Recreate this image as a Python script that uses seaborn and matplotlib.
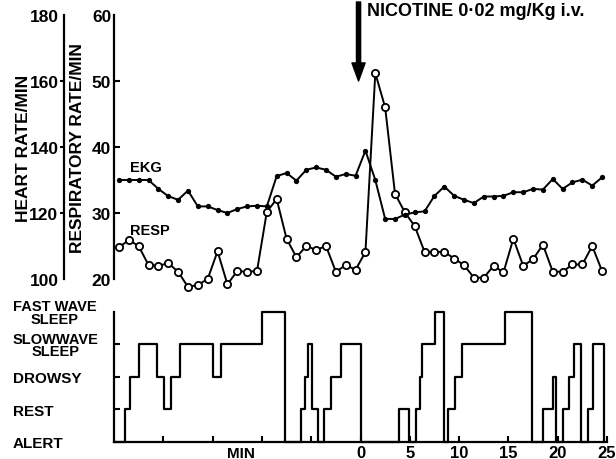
import matplotlib
matplotlib.use("Agg")
import matplotlib.pyplot as plt
import seaborn as sns

# ---- data -------------------------------------------------------------
minutes = [-24.5, -23.5, -22.5, -21.5, -20.5, -19.5, -18.5, -17.5, -16.5, -15.5,
           -14.5, -13.5, -12.5, -11.5, -10.5, -9.5, -8.5, -7.5, -6.5, -5.5,
           -4.5, -3.5, -2.5, -1.5, -0.5, 0.5, 1.5, 2.5, 3.5, 4.5,
           5.5, 6.5, 7.5, 8.5, 9.5, 10.5, 11.5, 12.5, 13.5, 14.5,
           15.5, 16.5, 17.5, 18.5, 19.5, 20.5, 21.5, 22.5, 23.5, 24.5]

heart_rate = [130, 130, 130, 130, 127.3, 125.1, 124, 126.8, 122, 122,
              120.9, 120, 121.2, 122, 122.2, 122, 131.2, 132.1, 129.8, 133.1,
              133.8, 133.1, 131, 131.8, 131.3, 138.9, 130, 118.2, 118.2, 119.5,
              120.2, 120.5, 125.2, 128, 125.2, 124, 123, 125, 125, 125.2,
              126.3, 126.3, 127.3, 127.1, 130.3, 127.3, 129.3, 130.1, 128.3, 130.8]

resp_rate = [24.8, 25.9, 25.0, 22.1, 22.0, 22.4, 21.1, 18.8, 19.1, 20.0,
             24.2, 19.2, 21.2, 21.1, 21.2, 30.2, 32.1, 26.1, 23.3, 25.0,
             24.4, 25.0, 21.1, 22.1, 21.4, 24.1, 51.2, 46.0, 32.9, 30.1,
             28.0, 24.1, 24.1, 24.1, 23.1, 22.1, 20.2, 20.2, 22.0, 21.0,
             26.1, 22.0, 23.0, 25.2, 21.1, 21.1, 22.2, 22.2, 25.0, 21.2]

# sleep stage changes: minute at which each stage begins
stage_minutes = [-25, -23.9, -23.4, -22.5, -20.6, -19.9, -19.2, -18.3, -15.0, -14.1,
                 -10.0, -7.7, -6.0, -5.6, -5.3, -4.9, -4.3, -3.7, -3.0, -2.0,
                 0.0, 3.9, 4.9, 5.6, 6.0, 6.2, 7.6, 8.5, 8.9, 9.6,
                 10.3, 14.7, 17.4, 18.5, 19.5, 19.8, 20.5, 21.1, 21.7, 22.4,
                 23.1, 23.6, 24.7]
stage_levels = [0, 1, 2, 3, 2, 1, 2, 3, 2, 3,
                4, 0, 1, 2, 3, 1, 0, 1, 2, 3,
                0, 1, 0, 1, 2, 3, 4, 0, 1, 2,
                3, 4, 0, 1, 2, 0, 1, 2, 3, 0,
                1, 3, 0]
stage_names = ["ALERT", "REST", "DROWSY", "SLOWWAVE\nSLEEP", "FAST WAVE\nSLEEP"]

hr_ticks = [100, 120, 140, 160, 180]
resp_ticks = [20, 30, 40, 50, 60]
time_ticks = [-20, -15, -10, -5, 0, 5, 10, 15, 20, 25]
time_labels = ["", "", "", "", "0", "5", "10", "15", "20", "25"]

# ---- style ------------------------------------------------------------
sns.set_theme(style="ticks")
plt.rcParams["font.family"] = ["Liberation Sans", "DejaVu Sans"]
plt.rcParams["font.weight"] = "bold"
plt.rcParams["axes.linewidth"] = 1.6
INK = "black"

fig = plt.figure(figsize=(6.16, 4.60), dpi=100)
ax_resp = fig.add_axes([0.1851, 0.3913, 0.8003, 0.5739])
ax_hr = ax_resp.twinx()
ax_hyp = fig.add_axes([0.1851, 0.0370, 0.8003, 0.2826])

# ---- upper panel: heart rate and respiration ----------------------------
sns.lineplot(x=minutes, y=resp_rate, ax=ax_resp, color=INK, lw=1.4,
             marker="o", markersize=5.2, markerfacecolor="white",
             markeredgecolor=INK, markeredgewidth=1.3, clip_on=False,
             legend=False)
sns.lineplot(x=minutes, y=heart_rate, ax=ax_hr, color=INK, lw=1.4,
             marker="o", markersize=3.8, markerfacecolor=INK,
             markeredgewidth=0, clip_on=False, legend=False)

for ax in (ax_resp, ax_hr):
    ax.set_xlim(-25, 25)
    for s in ("top", "right", "bottom"):
        ax.spines[s].set_visible(False)
    ax.set_xticks([])
    ax.patch.set_visible(False)

ax_resp.set_ylim(20, 60)
ax_resp.set_yticks(resp_ticks)
ax_resp.set_yticklabels([str(v) for v in resp_ticks])
ax_resp.tick_params(axis="y", direction="in", length=4, width=1.5, pad=2,
                    labelsize=12.5, colors=INK)
ax_resp.spines["left"].set_color(INK)

ax_hr.set_ylim(100, 180)
ax_hr.yaxis.tick_left()
ax_hr.yaxis.set_label_position("left")
ax_hr.spines["left"].set_visible(True)
ax_hr.spines["left"].set_position(("outward", 36))
ax_hr.spines["left"].set_color(INK)
ax_hr.set_yticks(hr_ticks)
ax_hr.set_yticklabels([str(v) for v in hr_ticks])
ax_hr.tick_params(axis="y", which="both", direction="out", length=3, width=1.5,
                  pad=1, labelsize=12.5, colors=INK, right=False, labelright=False,
                  left=True, labelleft=True)

for ax in (ax_resp, ax_hr):
    ticks = ax.yaxis.get_major_ticks()
    for i in (0, -1):
        ticks[i].tick1line.set_visible(False)

ax_hr.set_ylabel("HEART RATE/MIN", fontsize=12.5, fontweight="bold", color=INK)
ax_hr.yaxis.set_label_coords(-0.168, 0.5)
ax_resp.set_ylabel("RESPIRATORY RATE/MIN", fontsize=12.5, fontweight="bold",
                   color=INK)
ax_resp.yaxis.set_label_coords(-0.058, 0.5)

ax_resp.text(-23.4, 37.0, "EKG", fontsize=10.5, fontweight="bold",
             ha="left", va="center", color=INK)
ax_resp.text(-23.4, 27.4, "RESP", fontsize=10.5, fontweight="bold",
             ha="left", va="center", color=INK)

# injection marker
ax_resp.annotate("", xy=(-0.2, 378), xytext=(-0.2, 457),
                 xycoords=("data", "figure pixels"),
                 textcoords=("data", "figure pixels"),
                 arrowprops=dict(facecolor=INK, edgecolor=INK, width=3,
                                 headwidth=9.5, headlength=13, shrink=0))
fig.text(367 / 616, 1 - 12 / 460, "NICOTINE 0\u00b702 mg/Kg i.v.",
         fontsize=13, fontweight="bold", ha="left", va="center", color=INK)

# ---- lower panel: behavioural / sleep state -----------------------------
sns.lineplot(x=stage_minutes, y=stage_levels, ax=ax_hyp, color=INK, lw=1.6,
             drawstyle="steps-post", clip_on=False, legend=False)
ax_hyp.set_xlim(-25, 25)
ax_hyp.set_ylim(0, 4)
ax_hyp.spines["top"].set_visible(False)
ax_hyp.spines["right"].set_visible(False)
ax_hyp.spines["left"].set_color(INK)
ax_hyp.spines["bottom"].set_color(INK)
ax_hyp.patch.set_visible(False)

ax_hyp.set_yticks(range(len(stage_names)))
ax_hyp.set_yticklabels(stage_names)
ax_hyp.tick_params(axis="y", direction="in", length=4, width=1.5, pad=73,
                   labelsize=11, colors=INK)
for i, lab in enumerate(ax_hyp.get_yticklabels()):
    lab.set_ha("left")
    lab.set_multialignment("center")
    lab.set_fontweight("bold")
    if "\n" in stage_names[i]:
        lab.set_fontsize(10.5)
        lab.set_linespacing(0.85)
yt = ax_hyp.yaxis.get_major_ticks()
for i in (0, -1):
    yt[i].tick1line.set_visible(False)

ax_hyp.set_xticks(time_ticks)
ax_hyp.set_xticklabels(time_labels)
ax_hyp.tick_params(axis="x", direction="in", length=4, width=1.5, pad=2,
                   labelsize=12, colors=INK)
for lab in ax_hyp.get_xticklabels():
    lab.set_fontweight("bold")
ax_hyp.text(-12.1, -0.085, "MIN", transform=ax_hyp.get_xaxis_transform(),
            fontsize=11, fontweight="bold", ha="center", va="center", color=INK)

fig.savefig("out.png", dpi=100, facecolor="white")
